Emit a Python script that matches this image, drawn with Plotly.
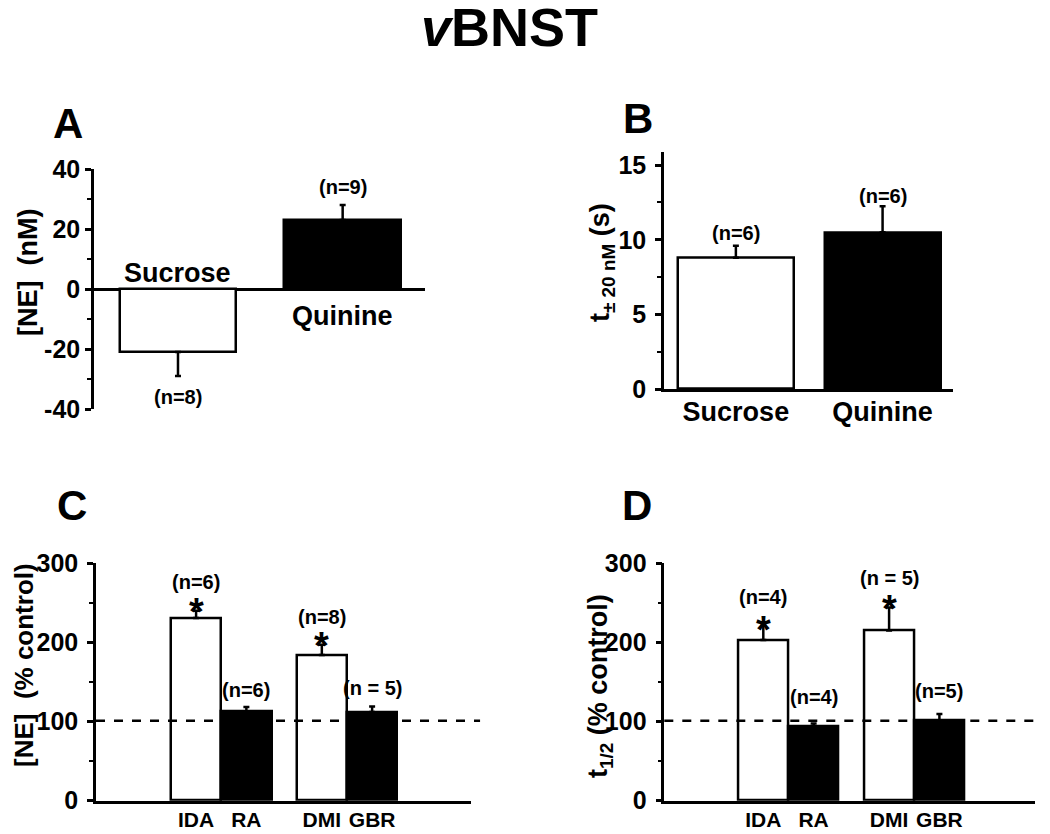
import plotly.graph_objects as go

# ---------------- data ----------------
taste_groups = ["Sucrose", "Quinine"]
ne_change_nM = [-21, 23]
ne_change_err = [8, 5]
ne_change_n = ["(n=8)", "(n=9)"]

t20_groups = ["Sucrose", "Quinine"]
t20_seconds = [8.8, 10.5]
t20_err = [0.8, 1.75]
t20_n = ["(n=6)", "(n=6)"]

drugs = ["IDA", "RA", "DMI", "GBR"]
ne_pct_control = [231, 112.5, 184, 112]
ne_pct_err = [9, 6, 13, 7]
ne_pct_n = ["(n=6)", "(n=6)", "(n=8)", "(n = 5)"]
ne_pct_sig = [True, False, True, False]

thalf_pct_control = [203, 94, 215, 101]
thalf_pct_err = [18, 3.5, 29, 8.5]
thalf_pct_n = ["(n=4)", "(n=4)", "(n = 5)", "(n=5)"]
thalf_pct_sig = [True, False, True, False]

control_level = 101

a_ticks = [-40, -20, 0, 20, 40]
a_ticktext = ["-40", "-20", "0", "20", "40"]

# ---------------- styles ----------------
FONT = "Liberation Sans, Arial, sans-serif"
OFF = 8                      # page body margin
W, H = 1050 - OFF, 834 - OFF
LW = 2.5
fills2 = ["white", "black"]
fills4 = ["white", "black", "white", "black"]
drug_x = [1, 2, 3.5, 4.5]


def px(x):
    return (x - OFF) / W


def py(y):
    return 1 - (y - OFF) / H


fig = go.Figure()


def bar_trace(x, y, err, fills, width, xa, ya):
    up = [e if v >= 0 else 0 for v, e in zip(y, err)]
    dn = [e if v < 0 else 0 for v, e in zip(y, err)]
    return go.Bar(
        x=x, y=y, width=width, xaxis=xa, yaxis=ya,
        marker=dict(color=fills, line=dict(color="black", width=LW)),
        error_y=dict(type="data", symmetric=False, array=up, arrayminus=dn,
                     color="black", thickness=LW, width=3),
        showlegend=False, hoverinfo="skip",
    )


fig.add_trace(bar_trace([0, 1], ne_change_nM, ne_change_err, fills2, 0.71, "x", "y"))
fig.add_trace(bar_trace([0, 1], t20_seconds, t20_err, fills2, 0.79, "x2", "y2"))
fig.add_trace(bar_trace(drug_x, ne_pct_control, ne_pct_err, fills4, 1.0, "x3", "y3"))
fig.add_trace(bar_trace(drug_x, thalf_pct_control, thalf_pct_err, fills4, 1.0, "x4", "y4"))

tickfont = dict(family=FONT, size=25, color="black", weight="bold")


def yax(domain, anchor, rng, dtick, minor, zeroline=False, standoff=2, **kw):
    d = dict(domain=domain, anchor=anchor, range=rng, dtick=dtick, tick0=0,
             showline=True, linecolor="black", linewidth=LW,
             ticks="outside", ticklen=6, tickwidth=LW, tickcolor="black",
             minor=dict(dtick=minor, ticks="outside", ticklen=4, tickwidth=2, tickcolor="black"),
             showgrid=False, zeroline=zeroline, zerolinecolor="black", zerolinewidth=LW,
             tickfont=tickfont, ticklabelstandoff=standoff, automargin=False, fixedrange=True)
    d.update(kw)
    return d


def xax(domain, anchor, rng, vals, text, size, standoff, show=True):
    d = dict(domain=domain, anchor=anchor, range=rng,
             showline=show, linecolor="black", linewidth=LW, ticks="",
             showticklabels=show,
             tickfont=dict(family=FONT, size=size, color="black", weight="bold"),
             ticklabelstandoff=standoff, showgrid=False, zeroline=False,
             automargin=False, fixedrange=True)
    if show:
        d.update(tickmode="array", tickvals=vals, ticktext=text)
    return d


layout = dict(
    template="none",
    width=W, height=H, margin=dict(l=0, r=0, t=0, b=0, pad=0, autoexpand=False),
    paper_bgcolor="white", plot_bgcolor="white", bargap=0, showlegend=False,
    # Panel A
    xaxis=xax([px(94), px(425)], "y", [-0.51, 1.5], None, None, 20, 0, show=False),
    yaxis=yax([py(409), py(169)], "x", [-40, 40], 20, 10, zeroline=True, standoff=0,
              tickmode="array", tickvals=a_ticks, ticktext=a_ticktext),
    # Panel B
    xaxis2=xax([px(664), px(953)], "y2", [-0.49, 1.48], [0, 1], t20_groups, 27, -3),
    yaxis2=yax([py(389), py(151.7)], "x2", [0, 15.9], 5, 2.5, standoff=4),
    # Panel C
    xaxis3=xax([px(96), px(470.7)], "y3", [-0.99, 6.46], drug_x, drugs, 21, -2),
    yaxis3=yax([py(800.7), py(563.3)], "x3", [0, 300], 100, 50, standoff=4),
    # Panel D
    xaxis4=xax([px(664.3), px(1035)], "y4", [-0.968, 6.40], drug_x, drugs, 21, -2),
    yaxis4=yax([py(800.7), py(563.3)], "x4", [0, 300], 100, 50, standoff=4),
)
fig.update_layout(**layout)

# dashed control lines (extend slightly past the x axis end like the original)
fig.add_shape(type="line", xref="x3 domain", yref="y3", x0=0, x1=1.025,
              y0=control_level, y1=control_level,
              line=dict(color="black", width=LW, dash="dash"))
fig.add_shape(type="line", xref="x4 domain", yref="y4", x0=0, x1=1.045,
              y0=control_level, y1=control_level,
              line=dict(color="black", width=LW, dash="dash"))

ann = []
nfont = dict(family=FONT, size=20, color="black", weight="bold")
bigfont = dict(family=FONT, size=27, color="black", weight="bold")
starfont = dict(family=FONT, size=38, color="black", weight="bold")

# Panel A n labels and group names
for i, (v, e, n) in enumerate(zip(ne_change_nM, ne_change_err, ne_change_n)):
    if v >= 0:
        ann.append(dict(x=i, y=v + e, xref="x", yref="y", text=n, showarrow=False,
                        font=nfont, yanchor="middle", yshift=17.6))
        ann.append(dict(x=i, y=0, xref="x", yref="y", text=taste_groups[i], showarrow=False,
                        font=bigfont, yanchor="middle", yshift=-26.7))
    else:
        ann.append(dict(x=i, y=v - e, xref="x", yref="y", text=n, showarrow=False,
                        font=nfont, yanchor="middle", yshift=-20.7))
        ann.append(dict(x=i, y=0, xref="x", yref="y", text=taste_groups[i], showarrow=False,
                        font=bigfont, yanchor="middle", yshift=16.3))

# Panel B n labels
b_shift = [13, 10]
for i, (v, e, n) in enumerate(zip(t20_seconds, t20_err, t20_n)):
    ann.append(dict(x=i, y=v + e, xref="x2", yref="y2", text=n, showarrow=False,
                    font=nfont, yanchor="middle", yshift=b_shift[i]))

# Panels C and D n labels and significance stars
c_shift = [29, 16.7, 28.3, 19]
d_shift = [29, 26.3, 29.7, 23]
c_star = [-1, 0, -1.5, 0]
d_star = [-4.5, 0, -1, 0]
for xa, ya, vals, errs, ns, sig, shifts, stars in [
    ("x3", "y3", ne_pct_control, ne_pct_err, ne_pct_n, ne_pct_sig, c_shift, c_star),
    ("x4", "y4", thalf_pct_control, thalf_pct_err, thalf_pct_n, thalf_pct_sig, d_shift, d_star),
]:
    for i, (v, e, n, s) in enumerate(zip(vals, errs, ns, sig)):
        ann.append(dict(x=drug_x[i], y=v + e, xref=xa, yref=ya, text=n, showarrow=False,
                        font=nfont, yanchor="middle", yshift=shifts[i]))
        if s:
            ann.append(dict(x=drug_x[i], y=v + e, xref=xa, yref=ya, text="*", showarrow=False,
                            font=starfont, yanchor="middle", yshift=stars[i]))

# y-axis titles
ytitle_font = dict(family=FONT, size=27, color="black", weight="bold")
for x, y, t, fs in [
    (28, 273, "[NE]\u00a0\u00a0(nM)", 27),
    (602, 263, "t<sub>\u00b1 20 nM</sub>\u00a0(s)", 27),
    (24, 665, "[NE]\u00a0\u00a0(% control)", 26),
    (600, 686, "t<sub>1/2</sub>\u00a0(% control)", 27),
]:
    ann.append(dict(x=px(x), y=py(y), xref="paper", yref="paper", text=t,
                    textangle=-90, showarrow=False, font=dict(ytitle_font, size=fs),
                    xanchor="center", yanchor="middle"))

# panel letters
letter_font = dict(family=FONT, size=42, color="black", weight="bold")
for x, y, t in [(68, 123, "A"), (638, 118, "B"), (72, 506, "C"), (637, 506, "D")]:
    ann.append(dict(x=px(x), y=py(y), xref="paper", yref="paper", text=t,
                    showarrow=False, font=letter_font, xanchor="center", yanchor="middle"))

# main title
ann.append(dict(x=px(509), y=py(27), xref="paper", yref="paper", text="<i>v</i>BNST",
                showarrow=False, font=dict(family=FONT, size=54, color="black", weight="bold"),
                xanchor="center", yanchor="middle"))

fig.update_layout(annotations=ann)
fig.write_html("out.html")
